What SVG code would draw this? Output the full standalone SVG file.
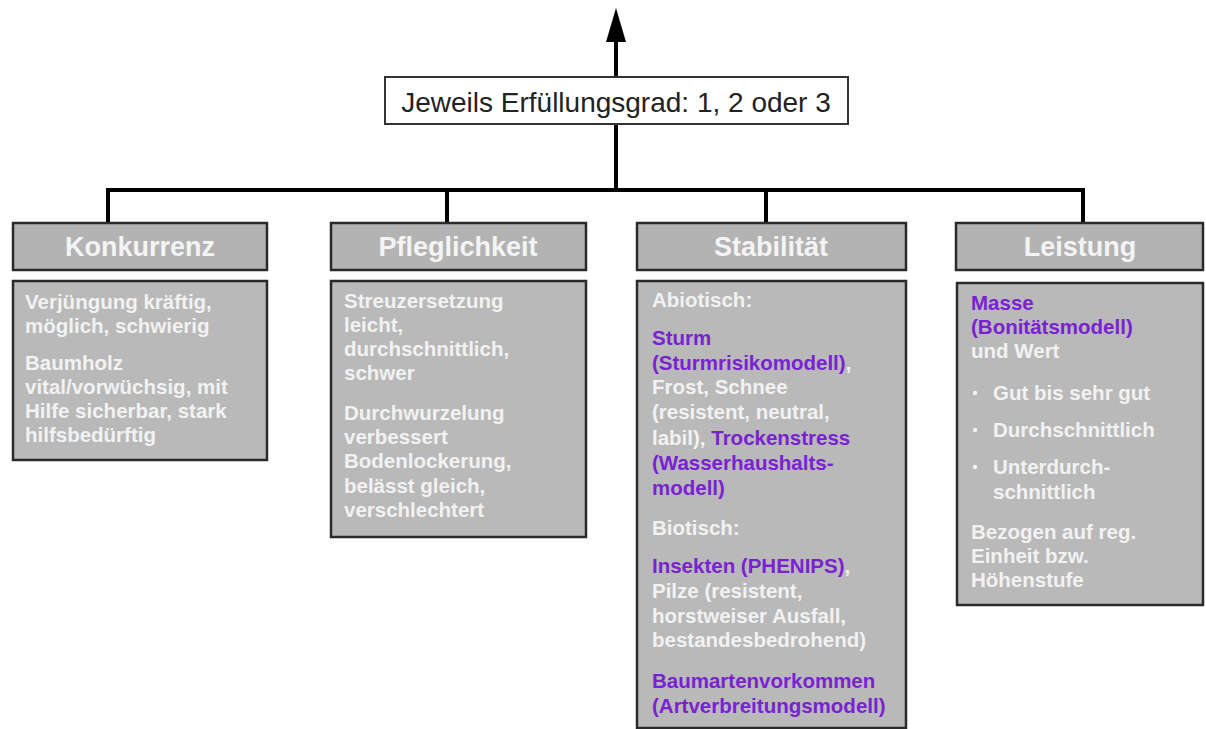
<svg xmlns="http://www.w3.org/2000/svg" width="1206" height="729" viewBox="0 0 1206 729">
<style>
.hd{fill:#b3b3b3;stroke:#2a2a2a;stroke-width:2.5}
.bd{fill:#b9b9b9;stroke:#2a2a2a;stroke-width:2.5}
.ht{font-family:"Liberation Sans",Arial,sans-serif;font-weight:bold;font-size:27px;fill:#f4f4f4;text-anchor:middle}
.bt{font-family:"Liberation Sans",Arial,sans-serif;font-weight:bold;font-size:20.5px;fill:#f2f2f2}
.p{fill:#7a22d2}
.ln{stroke:#000;stroke-width:4;fill:none}
</style>
<rect width="1206" height="729" fill="#fff"/>
<g id="connectors">
<line class="ln" x1="616" y1="38" x2="616" y2="77"/>
<polygon points="616,8 606,42 626,42" fill="#000"/>
<line class="ln" x1="616" y1="124" x2="616" y2="190"/>
<line class="ln" x1="106" y1="190" x2="1085" y2="190"/>
<line class="ln" x1="108" y1="190" x2="108" y2="223"/>
<line class="ln" x1="447" y1="190" x2="447" y2="223"/>
<line class="ln" x1="766" y1="190" x2="766" y2="223"/>
<line class="ln" x1="1083" y1="190" x2="1083" y2="223"/>
</g>
<g id="top">
<rect x="385" y="77" width="463" height="47" fill="#fff" stroke="#333" stroke-width="2"/>
<text x="616" y="112" font-family="'Liberation Sans',Arial,sans-serif" font-size="28" fill="#222" text-anchor="middle">Jeweils Erfüllungsgrad: 1, 2 oder 3</text>
</g>
<g id="konkurrenz">
<rect class="hd" x="13" y="223" width="254" height="47"/>
<text class="ht" x="140" y="256">Konkurrenz</text>
<rect class="bd" x="13" y="281" width="254" height="179"/>
<text class="bt"><tspan x="25" y="309">Verjüngung kräftig,</tspan><tspan x="25" y="333">möglich, schwierig</tspan><tspan x="25" y="370">Baumholz</tspan><tspan x="25" y="394">vital/vorwüchsig, mit</tspan><tspan x="25" y="418">Hilfe sicherbar, stark</tspan><tspan x="25" y="442">hilfsbedürftig</tspan></text>
</g>
<g id="pfleglichkeit">
<rect class="hd" x="331" y="223" width="255" height="47"/>
<text class="ht" x="458" y="256">Pfleglichkeit</text>
<rect class="bd" x="331" y="281" width="255" height="256"/>
<text class="bt"><tspan x="344" y="308">Streuzersetzung</tspan><tspan x="344" y="332">leicht,</tspan><tspan x="344" y="356">durchschnittlich,</tspan><tspan x="344" y="380">schwer</tspan><tspan x="344" y="420">Durchwurzelung</tspan><tspan x="344" y="444">verbessert</tspan><tspan x="344" y="468">Bodenlockerung,</tspan><tspan x="344" y="493">belässt gleich,</tspan><tspan x="344" y="517">verschlechtert</tspan></text>
</g>
<g id="stabilitaet">
<rect class="hd" x="637" y="223" width="269" height="47"/>
<text class="ht" x="771" y="256">Stabilität</text>
<rect class="bd" x="637" y="281" width="269" height="447"/>
<text class="bt"><tspan x="652" y="307">Abiotisch:</tspan><tspan x="652" y="345" class="p">Sturm</tspan><tspan x="652" y="370"><tspan class="p">(Sturmrisikomodell)</tspan>,</tspan><tspan x="652" y="394">Frost, Schnee</tspan><tspan x="652" y="419">(resistent, neutral,</tspan><tspan x="652" y="445">labil), <tspan class="p">Trockenstress</tspan></tspan><tspan x="652" y="470" class="p">(Wasserhaushalts-</tspan><tspan x="652" y="495" class="p">modell)</tspan><tspan x="652" y="535">Biotisch:</tspan><tspan x="652" y="573"><tspan class="p">Insekten (PHENIPS)</tspan>,</tspan><tspan x="652" y="598">Pilze (resistent,</tspan><tspan x="652" y="623">horstweiser Ausfall,</tspan><tspan x="652" y="647">bestandesbedrohend)</tspan><tspan x="652" y="688" class="p">Baumartenvorkommen</tspan><tspan x="652" y="713" class="p">(Artverbreitungsmodell)</tspan></text>
</g>
<g id="leistung">
<rect class="hd" x="956" y="223" width="247" height="47"/>
<text class="ht" x="1080" y="256">Leistung</text>
<rect class="bd" x="957" y="283" width="246" height="322"/>
<text class="bt"><tspan x="971" y="310" class="p">Masse</tspan><tspan x="971" y="334" class="p">(Bonitätsmodell)</tspan><tspan x="971" y="358">und Wert</tspan><tspan x="993" y="400">Gut bis sehr gut</tspan><tspan x="993" y="437">Durchschnittlich</tspan><tspan x="993" y="474">Unterdurch-</tspan><tspan x="993" y="499">schnittlich</tspan><tspan x="971" y="539">Bezogen auf reg.</tspan><tspan x="971" y="563">Einheit bzw.</tspan><tspan x="971" y="587">Höhenstufe</tspan></text>
<circle cx="975" cy="393" r="2.2" fill="#f2f2f2"/>
<circle cx="975" cy="430" r="2.2" fill="#f2f2f2"/>
<circle cx="975" cy="467" r="2.2" fill="#f2f2f2"/>
</g>
</svg>
